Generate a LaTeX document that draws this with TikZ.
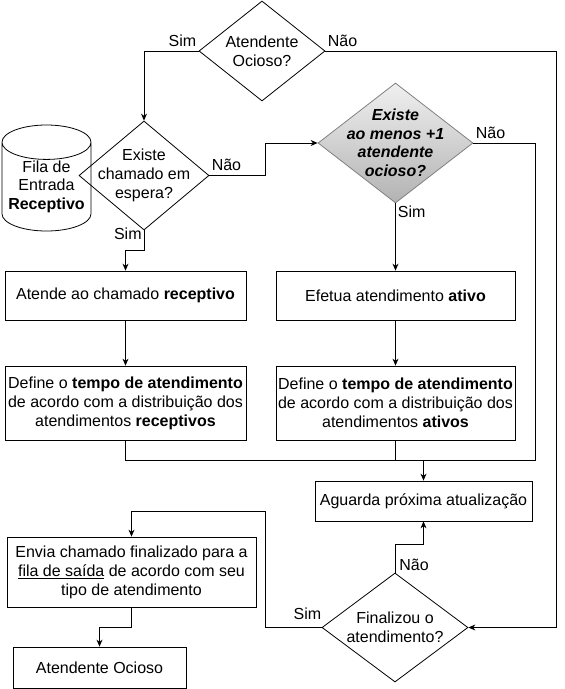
\documentclass[tikz,border=0pt]{standalone}
\usepackage{fontspec}
\setmainfont{Liberation Sans}
\usepackage{tikz}
\usepackage{xcolor}
\usetikzlibrary{shapes, arrows.meta}

\begin{document}
\begin{tikzpicture}[x=1pt, y=-1pt, line width=0.8pt,
        font=\fontsize{16}{19}\selectfont,
        >={Stealth[length=7pt, width=6pt]},
        caixa/.style={rectangle, draw, inner sep=0pt, align=center},
        decisao/.style={diamond, draw, inner sep=-12pt, align=center},
        rotulo/.style={inner xsep=2pt, inner ysep=4pt}]
        \useasboundingbox (0, 0) rectangle (565, 689);

        \node[decisao, minimum width=126, minimum height=100] (a) at (262, 51) {Atendente\\Ocioso?};
        \node[cylinder, shape border rotate=90, draw, shape aspect=0.45, minimum width=89, minimum height=106,
            inner sep=0pt, align=center, anchor=shape center, font=\fontsize{16}{18.5}\selectfont] (b) at (46.5, 178) {Fila de\\Entrada\\\textbf{Receptivo}};
        \node[decisao, minimum width=130, minimum height=109] (c) at (144, 175.5) {Existe\\chamado em\\espera?};
        \node[decisao, draw=gray, top color=gray!12, bottom color=gray!60, minimum width=155, minimum height=120,
            font=\fontsize{16}{18.5}\selectfont\bfseries\itshape] (d) at (395.5, 143) {Existe\\ao menos +1\\atendente\\ocioso?};
        \node[caixa, minimum width=241, minimum height=49] (e) at (125.5, 295.5) {Atende ao chamado \textbf{receptivo}};
        \node[caixa, minimum width=239, minimum height=49] (f) at (395.5, 295.5) {Efetua atendimento \textbf{ativo}};
        \node[caixa, minimum width=241, minimum height=74] (g) at (125.5, 403) {Define o \textbf{tempo de atendimento}\\de acordo com a distribuição dos\\atendimentos \textbf{receptivos}};
        \node[caixa, minimum width=239, minimum height=74] (h) at (395.5, 403) {Define o \textbf{tempo de atendimento}\\de acordo com a distribuição dos\\atendimentos \textbf{ativos}};
        \node[caixa, minimum width=217, minimum height=40] (i) at (423.5, 501) {Aguarda próxima atualização};
        \node[caixa, minimum width=249, minimum height=70] (j) at (131.5, 572) {Envia chamado finalizado para a\\\underline{fila de saída} de acordo com seu\\tipo de atendimento};
        \node[decisao, minimum width=146, minimum height=109] (k) at (395, 627.5) {Finalizou o\\atendimento?};
        \node[caixa, minimum width=173, minimum height=41] (l) at (99.5, 667.5) {Atendente Ocioso};
        \coordinate (m) at (423.5, 460);

        \draw[->] (a.west) node[rotulo, above left] {Sim} -| (c.north);
        \draw[->] (a.east) node[rotulo, above right] {Não} -- ++(231, 0) |- (k.east);
        \draw[->] (c.east) node[rotulo, above right] {Não} -- ++(56, 0) |- (d.west);
        \draw[->] (c.south) node[rotulo, left, yshift=-3pt] {Sim} -- ++(0, 20) -| (e.north);
        \draw[->] (d.south) node[rotulo, below right, inner ysep=2pt] {Sim} -- (f.north);
        \draw (d.east) node[rotulo, above right] {Não} -- ++(62, 0) |- (m);
        \draw[->] (e) to (g);
        \draw[->] (f) to (h);
        \draw (g.south) |- (m)
            (h.south) |- (m);
        \draw[->] (m) to (i.north);
        \draw[->] (k.north) node[rotulo, above right, inner ysep=2pt, xshift=2pt] {Não} -- ++(0, -28) -| (i.south);
        \draw[->] (k.west) node[rotulo, above left, inner xsep=0pt, yshift=3pt] {Sim} -| ++(-56, -116) -| (j.north);
        \draw[->] (j.south) -- ++(0, 20) -| (l.north);
\end{tikzpicture}
\end{document}
